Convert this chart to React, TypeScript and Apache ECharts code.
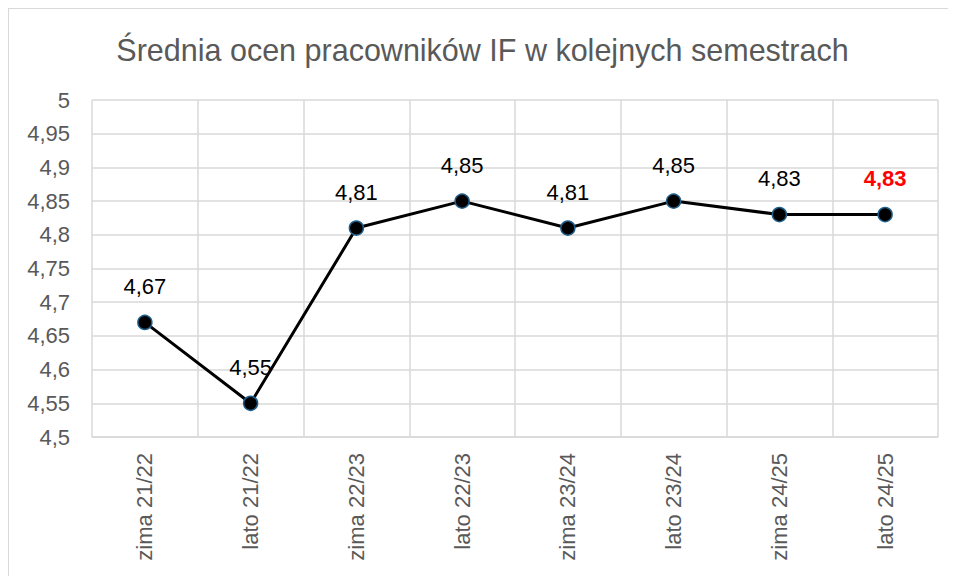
import React, { useEffect, useRef } from "react";
import * as echarts from "echarts";

const categories = ["zima 21/22", "lato 21/22", "zima 22/23", "lato 22/23", "zima 23/24", "lato 23/24", "zima 24/25", "lato 24/25"];
const values = [4.67, 4.55, 4.81, 4.85, 4.81, 4.85, 4.83, 4.83];
const yMin = 4.5;
const yMax = 5;
const yStep = 0.05;
const titleText = "Średnia ocen pracowników IF w kolejnych semestrach";

const fmt = (v: number) => String(Math.round(v * 100) / 100).replace(".", ",");

export default function App() {
  const ref = useRef<HTMLDivElement>(null);
  useEffect(() => {
    if (!ref.current) return;
    const chart = echarts.init(ref.current, null, { renderer: "svg" });
    const font = "'Liberation Sans', Arial, sans-serif";
    const data = values.map((v, i) =>
      i === values.length - 1
        ? { value: v, label: { color: "#ff0000", fontWeight: "bold" as const } }
        : { value: v }
    );
    chart.setOption({
      animation: false,
      backgroundColor: "#ffffff",
      title: {
        text: titleText,
        left: "center",
        top: 20,
        textStyle: { fontFamily: font, fontSize: 30.5, fontWeight: "normal", color: "#595959" },
      },
      grid: { left: 83, right: 18, top: 91, bottom: 139, containLabel: false },
      xAxis: {
        type: "category",
        data: categories,
        boundaryGap: true,
        axisLine: { show: true, lineStyle: { color: "#d9d9d9", width: 1.5 } },
        axisTick: { show: false },
        splitLine: { show: true, lineStyle: { color: "#d9d9d9", width: 1.5 } },
        axisLabel: { rotate: 90, margin: 16, fontFamily: font, fontSize: 22, color: "#595959" },
      },
      yAxis: {
        type: "value",
        min: yMin,
        max: yMax,
        interval: yStep,
        axisLine: { show: false },
        axisTick: { show: false },
        splitLine: { show: true, lineStyle: { color: "#d9d9d9", width: 1.5 } },
        axisLabel: { margin: 22, fontFamily: font, fontSize: 22, color: "#595959", formatter: (v: number) => fmt(v) },
      },
      series: [
        {
          type: "line",
          data,
          symbol: "circle",
          symbolSize: 14,
          lineStyle: { color: "#000000", width: 3 },
          itemStyle: { color: "#000000", borderColor: "#1f5f8b", borderWidth: 1.5 },
          label: {
            show: true,
            position: "top",
            distance: 17,
            fontFamily: font,
            fontSize: 22,
            color: "#000000",
            formatter: (p: any) => fmt(p.value),
          },
        },
      ],
    });
    return () => chart.dispose();
  }, []);
  return (
    <div
      style={{
        width: 948,
        height: 568,
        boxSizing: "border-box",
        borderLeft: "1px solid #d9d9d9",
        borderTop: "1px solid #d9d9d9",
        overflow: "hidden",
      }}
    >
      <div ref={ref} style={{ width: 947, height: 567 }} />
    </div>
  );
}
